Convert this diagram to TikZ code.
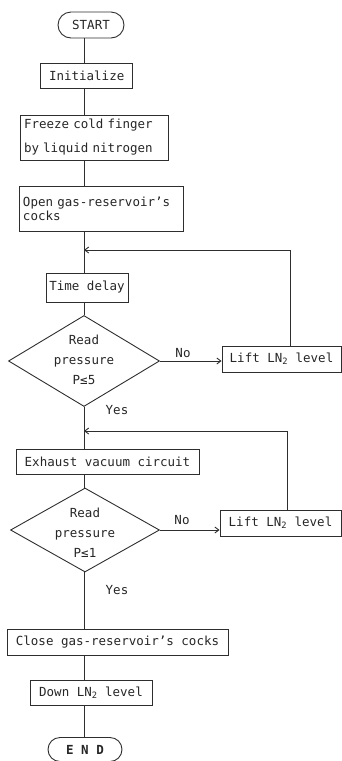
\documentclass[tikz,border=0pt]{standalone}
\usepackage{fontspec}
\newfontfamily\plotfont{DejaVu Sans Mono}
\usetikzlibrary{shapes.geometric,shapes.misc,arrows.meta}
\begin{document}
\begin{tikzpicture}[x=1pt,y=-1pt,
  ink/.style={draw=black!82,line width=0.9pt},
  every node/.style={font=\plotfont\fontsize{12.5}{20}\selectfont,text=black!85},
  box/.style={ink,rectangle,inner sep=0pt,align=center},
  leftbox/.style={ink,rectangle,inner ysep=0pt,inner xsep=4pt,align=left},
  term/.style={ink,rounded rectangle,inner sep=0pt},
  dia/.style={ink,diamond,inner sep=0pt},
  flow/.style={ink},
  arr/.style={ink,-{Straight Barb[length=4pt,width=6pt]}},
  lbl/.style={inner sep=0pt}]
\useasboundingbox (0,0) rectangle (342,761);
\coordinate (ax) at (84,0);

% main column
\node[term,minimum width=66pt,minimum height=26pt] (start) at (91,25) {START};
\node[box,minimum width=92pt,minimum height=25pt] (init) at (86.7,75.8) {Initialize};
\node[leftbox,text width=140pt,minimum height=45pt,
      font=\plotfont\fontsize{12.5}{24}\selectfont] (freeze) at (94,137.5)
      {Freeze cold finger\\by liquid nitrogen};
\node[leftbox,text width=156pt,minimum height=45pt,
      font=\plotfont\fontsize{12.5}{13.5}\selectfont] (open) at (101,209)
      {Open gas-reservoir’s\\cocks};
\node[box,minimum width=82pt,minimum height=29pt] (tdelay) at (87,287.5) {Time delay};
\node[dia,minimum width=151pt,minimum height=91pt] (d1) at (84,361) {};
\node[align=center] (t1) at (84,360) {Read\\pressure\\P≤5};
\node[box,minimum width=183pt,minimum height=25pt] (exh) at (107.5,461.5) {Exhaust vacuum circuit};
\node[dia,minimum width=149pt,minimum height=84pt] (d2) at (85,530) {};
\node[align=center] (t2) at (85,532.5) {Read\\pressure\\P≤1};
\node[box,minimum width=221pt,minimum height=26pt] (close) at (117.5,642) {Close gas-reservoir’s cocks};
\node[box,minimum width=122pt,minimum height=25pt] (down) at (91,692.5) {Down LN\textsubscript{2} level};
\node[term,minimum width=74pt,minimum height=24pt] (end) at (85,749.5) {\bfseries E N D};

% side boxes
\node[box,minimum width=119pt,minimum height=26pt] (lift1) at (281.5,359) {Lift LN\textsubscript{2} level};
\node[box,minimum width=121pt,minimum height=26pt] (lift2) at (280.5,523) {Lift LN\textsubscript{2} level};

% branch labels
\node[lbl] (no1) at (183,353) {No};
\node[lbl] (yes1) at (117,410) {Yes};
\node[lbl] (no2) at (182,520) {No};
\node[lbl] (yes2) at (117,590) {Yes};

% joins on the main line
\coordinate (j1) at (84,250);
\coordinate (j2) at (84,431);

% main flow
\draw[flow] (start.south -| ax) -- (init.north -| ax);
\draw[flow] (init.south -| ax) -- (freeze.north -| ax);
\draw[flow] (freeze.south -| ax) -- (open.north -| ax);
\draw[flow] (open.south -| ax) -- (tdelay.north -| ax);
\draw[flow] (tdelay.south -| ax) -- (d1.north);
\draw[flow] (d1.south) -- (exh.north -| ax);
\draw[flow] (exh.south -| ax) -- (d2.north -| ax);
\draw[flow] (d2.south -| ax) -- (close.north -| ax);
\draw[flow] (close.south -| ax) -- (down.north -| ax);
\draw[flow] (down.south -| ax) -- (end.north -| ax);

% "No" branches and return loops
\draw[arr] (d1.east) -- (d1.east -| lift1.west);
\draw[arr] ([xshift=8.5pt]lift1.north) |- (j1);
\draw[arr] (d2.east) -- (d2.east -| lift2.west);
\draw[arr] ([xshift=6.5pt]lift2.north) |- (j2);
\end{tikzpicture}
\end{document}
